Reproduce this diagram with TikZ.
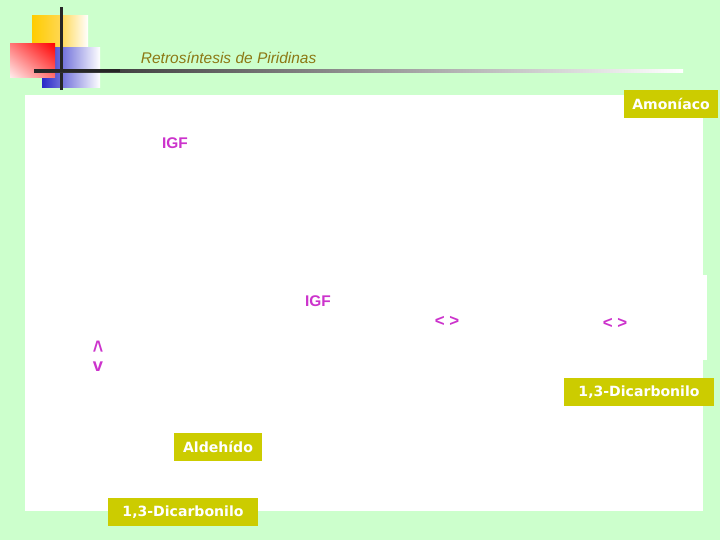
\documentclass[tikz,border=0pt]{standalone}
\usepackage{fontspec}
\setmainfont{Liberation Sans}
\newfontfamily\boxfont{DejaVu Sans}
\usetikzlibrary{positioning,shadings}
\definecolor{fondo}{RGB}{204,255,204}
\definecolor{caja}{RGB}{204,204,0}
\definecolor{magenta}{RGB}{204,51,204}
\definecolor{titulo}{RGB}{140,120,20}

\begin{document}
\begin{tikzpicture}[x=0.025cm,y=-0.025cm,
    reactivo/.style={fill=caja,text=white,font=\boxfont\bfseries\fontsize{10}{12}\selectfont,minimum height=0.7cm,inner xsep=4pt},
    marca/.style={text=magenta,font=\bfseries\fontsize{11}{13}\selectfont,inner sep=0pt}]

    \useasboundingbox (0,0) rectangle (720,540);
    \fill[fondo] (0,0) rectangle (720,540);

    % logo
    \shade[left color={rgb,255:red,255;green,204;blue,0},right color=white,middle color={rgb,255:red,255;green,215;blue,80}] (32,15) rectangle (88,74);
    \shade[left color={rgb,255:red,40;green,40;blue,200},right color=white] (42,47) rectangle (100,87);
    \shade[upper right=red,upper left={rgb,255:red,255;green,120;blue,120},lower right={rgb,255:red,255;green,110;blue,110},lower left={rgb,255:red,255;green,235;blue,235}] (10,43) rectangle (55,77);
    \fill[black!85] (60,7) rectangle (63,90);
    \shade[left color=black!85,right color=white] (34,69) rectangle (683,72);
    \fill[black!85] (34,69) rectangle (120,72);

    \node[text=titulo,font=\itshape\fontsize{11}{13}\selectfont,anchor=west] (title) at (136,58) {Retros\'intesis de Piridinas};

    % zona blanca
    \fill[white] (25,95) rectangle (703,511);
    \fill[white] (703,275) rectangle (707,360);

    \node[reactivo,minimum width=2.35cm] (amoniaco) at (671,104) {Amon\'iaco};
    \node[reactivo,minimum width=3.75cm] (dicarbA) at (639,392) {1,3-Dicarbonilo};
    \node[reactivo,minimum width=2.2cm] (aldehido) at (218,447) {Aldeh\'ido};
    \node[reactivo,minimum width=3.75cm] (dicarbB) at (183,512) {1,3-Dicarbonilo};

    \node[marca] (igfA) at (175,143) {IGF};
    \node[marca] (igfB) at (318,301) {IGF};
    \node[marca,font=\bfseries\fontsize{12}{14}\selectfont] (resA) at (447,321) {<\;>};
    \node[marca,font=\bfseries\fontsize{12}{14}\selectfont] (resB) at (615,323) {<\;>};
    \node[marca,font=\bfseries\fontsize{18}{20}\selectfont,xscale=0.7] (arriba) at (98,350) {\textasciicircum};
    \node[marca,font=\bfseries\fontsize{13}{15}\selectfont] (abajo) [below=1.5pt of arriba] {v};
  \end{tikzpicture}
\end{document}
